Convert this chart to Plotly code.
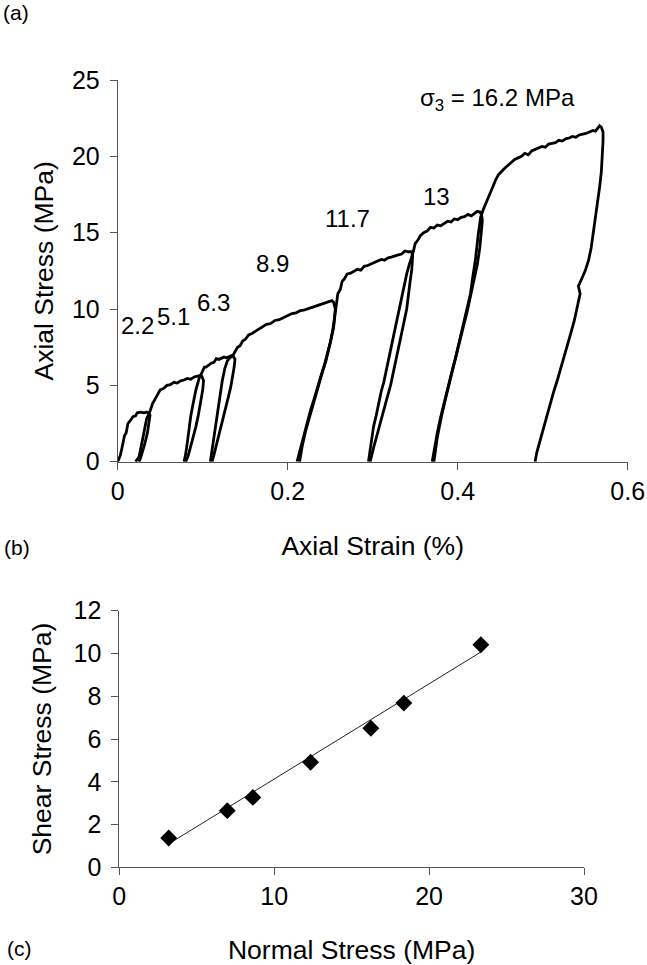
import plotly.graph_objects as go

# ---------------- (a) multi-stage triaxial test: axial stress vs axial strain ----------------
stage_labels = ["2.2", "5.1", "6.3", "8.9", "11.7", "13", "σ<sub>3</sub> = 16.2 MPa"]
label_strain = [0.0233, 0.0655, 0.1125, 0.182, 0.270, 0.375, 0.447]
label_stress = [8.9, 9.5, 10.4, 13.0, 15.9, 17.37, 23.75]

stage1_strain = [0.000, 0.003, 0.005, 0.008, 0.010, 0.012, 0.015, 0.018, 0.021, 0.023, 0.027,
                 0.031, 0.034, 0.036, 0.038, 0.037, 0.035, 0.032, 0.029, 0.027, 0.025]
stage1_stress = [0.0, 0.4, 0.9, 1.7, 1.9, 2.5, 2.7, 2.95, 3.0, 3.2, 3.25,
                 3.2, 3.25, 3.2, 3.05, 2.6, 1.9, 1.2, 0.6, 0.25, 0.0]

stage2_strain = [0.021, 0.025, 0.028, 0.031, 0.034, 0.038, 0.041, 0.044, 0.047, 0.050, 0.054,
                 0.058, 0.062, 0.066, 0.070, 0.074, 0.078, 0.082, 0.086, 0.090, 0.094, 0.097,
                 0.099, 0.101, 0.100, 0.098, 0.095, 0.092, 0.089, 0.086, 0.083, 0.080]
stage2_stress = [0.0, 0.3, 1.1, 2.0, 2.8, 3.3, 3.8, 4.1, 4.4, 4.7, 4.8,
                 5.0, 5.05, 5.2, 5.15, 5.3, 5.35, 5.45, 5.4, 5.55, 5.6, 5.65,
                 5.6, 5.3, 4.7, 4.0, 3.1, 2.3, 1.6, 0.9, 0.4, 0.0]

stage3_strain = [0.078, 0.080, 0.082, 0.084, 0.086, 0.088, 0.090, 0.092, 0.094, 0.096, 0.098,
                 0.100, 0.102, 0.104, 0.107, 0.110, 0.113, 0.116, 0.119, 0.122, 0.125, 0.128,
                 0.131, 0.134, 0.136, 0.138, 0.137, 0.135, 0.133, 0.130, 0.127, 0.124, 0.121,
                 0.118, 0.115, 0.113, 0.111]
stage3_stress = [0.0, 0.5, 1.3, 2.3, 3.0, 3.6, 4.2, 4.7, 5.1, 5.5, 5.7,
                 5.9, 6.2, 6.2, 6.35, 6.45, 6.5, 6.75, 6.7, 6.8, 6.85, 6.8,
                 6.9, 6.95, 6.9, 6.7, 6.2, 5.5, 4.9, 4.2, 3.5, 2.9, 2.3,
                 1.6, 0.9, 0.4, 0.0]

stage4_strain = [0.109, 0.111, 0.114, 0.117, 0.120, 0.123, 0.126, 0.129, 0.132, 0.135, 0.138,
                 0.141, 0.144, 0.147, 0.150, 0.154, 0.158, 0.162, 0.166, 0.170, 0.175, 0.180,
                 0.185, 0.190, 0.195, 0.200, 0.205, 0.210, 0.215, 0.220, 0.225, 0.230, 0.235,
                 0.240, 0.245, 0.249, 0.252, 0.254, 0.256, 0.255, 0.254, 0.251, 0.248, 0.245,
                 0.241, 0.237, 0.233, 0.229, 0.225, 0.221, 0.217, 0.214]
stage4_stress = [0.0, 0.8, 2.0, 3.1, 4.2, 5.3, 6.1, 6.6, 6.8, 6.9, 7.2,
                 7.5, 7.6, 7.9, 8.0, 8.3, 8.4, 8.55, 8.7, 8.8, 9.0, 9.05,
                 9.25, 9.3, 9.45, 9.55, 9.7, 9.75, 9.9, 9.95, 10.05, 10.15, 10.2,
                 10.3, 10.45, 10.5, 10.55, 10.45, 10.0, 9.3, 8.8, 8.0, 7.3, 6.6,
                 5.9, 5.1, 4.3, 3.6, 2.8, 2.0, 1.0, 0.0]

stage5_strain = [0.211, 0.215, 0.219, 0.223, 0.227, 0.231, 0.235, 0.239, 0.243, 0.247, 0.250,
                 0.253, 0.255, 0.257, 0.258, 0.259, 0.262, 0.264, 0.267, 0.270, 0.274, 0.278,
                 0.282, 0.286, 0.290, 0.294, 0.298, 0.302, 0.306, 0.310, 0.314, 0.318, 0.322,
                 0.326, 0.330, 0.334, 0.338, 0.342, 0.346, 0.347, 0.346, 0.344, 0.342, 0.340,
                 0.337, 0.334, 0.331, 0.328, 0.325, 0.321, 0.317, 0.313, 0.309, 0.305, 0.301,
                 0.297]
stage5_stress = [0.0, 0.9, 1.7, 2.6, 3.4, 4.1, 4.9, 5.6, 6.3, 7.1, 7.8,
                 8.6, 9.3, 10.0, 10.6, 11.0, 11.3, 11.8, 12.0, 12.3, 12.35, 12.5,
                 12.6, 12.55, 12.8, 12.85, 12.95, 13.05, 13.1, 13.25, 13.2, 13.35, 13.4,
                 13.5, 13.55, 13.6, 13.8, 13.75, 13.75, 13.5, 12.6, 11.8, 10.9, 10.0,
                 9.2, 8.4, 7.6, 6.8, 5.9, 5.0, 4.2, 3.4, 2.6, 1.8, 0.9,
                 0.0]

stage6_strain = [0.295, 0.298, 0.301, 0.304, 0.307, 0.310, 0.313, 0.316, 0.319, 0.322, 0.325,
                 0.328, 0.331, 0.334, 0.337, 0.340, 0.343, 0.346, 0.348, 0.350, 0.353, 0.356,
                 0.360, 0.364, 0.368, 0.372, 0.376, 0.380, 0.384, 0.388, 0.392, 0.396, 0.400,
                 0.404, 0.408, 0.412, 0.416, 0.420, 0.423, 0.426, 0.428, 0.429, 0.428, 0.426,
                 0.423, 0.419, 0.415, 0.411, 0.406, 0.401, 0.396, 0.391, 0.386, 0.381, 0.376,
                 0.372]
stage6_stress = [0.0, 1.2, 2.3, 3.0, 3.9, 4.6, 5.2, 6.0, 6.7, 7.5, 8.2,
                 9.0, 9.8, 10.8, 11.6, 12.3, 12.9, 13.4, 13.8, 14.3, 14.5, 14.8,
                 15.0, 15.1, 15.35, 15.3, 15.5, 15.45, 15.6, 15.75, 15.7, 15.9, 15.85,
                 16.0, 16.05, 16.2, 16.1, 16.3, 16.4, 16.35, 16.2, 15.8, 15.0, 14.0,
                 12.9, 11.8, 10.8, 9.8, 8.7, 7.6, 6.4, 5.3, 4.2, 3.0, 1.6,
                 0.0]

stage7_strain = [0.370, 0.373, 0.376, 0.379, 0.382, 0.385, 0.388, 0.391, 0.394, 0.397, 0.400,
                 0.403, 0.406, 0.409, 0.412, 0.415, 0.418, 0.421, 0.424, 0.427, 0.430, 0.433,
                 0.436, 0.439, 0.442, 0.445, 0.448, 0.451, 0.455, 0.459, 0.463, 0.467, 0.471,
                 0.475, 0.479, 0.483, 0.487, 0.491, 0.495, 0.499, 0.503, 0.507, 0.511, 0.515,
                 0.519, 0.523, 0.527, 0.531, 0.535, 0.539, 0.543, 0.547, 0.551, 0.555, 0.559,
                 0.562, 0.565, 0.567, 0.569, 0.571, 0.571, 0.570, 0.569, 0.567, 0.565, 0.563,
                 0.560, 0.557, 0.554, 0.550, 0.546, 0.542, 0.544, 0.541, 0.537, 0.533, 0.529,
                 0.525, 0.521, 0.517, 0.513, 0.509, 0.505, 0.501, 0.497, 0.493, 0.491]
stage7_stress = [0.0, 1.0, 1.9, 2.7, 3.4, 4.1, 4.9, 5.5, 6.1, 6.7, 7.4,
                 8.1, 8.8, 9.4, 10.2, 11.0, 12.2, 13.3, 14.8, 16.0, 16.5, 16.9,
                 17.4, 17.8, 18.2, 18.5, 18.8, 19.0, 19.2, 19.4, 19.6, 19.8, 19.9,
                 20.0, 20.2, 20.1, 20.35, 20.45, 20.5, 20.65, 20.6, 20.8, 20.85, 20.9,
                 21.05, 21.0, 21.15, 21.2, 21.3, 21.25, 21.4, 21.45, 21.5, 21.6, 21.7,
                 21.65, 21.85, 22.0, 21.9, 21.6, 21.0, 20.0, 19.0, 18.0, 17.2, 16.3,
                 15.0, 14.0, 13.2, 12.5, 12.0, 11.5, 11.0, 10.2, 9.2, 8.4, 7.6,
                 6.9, 6.1, 5.3, 4.6, 3.8, 3.0, 2.3, 1.5, 0.6, 0.0]

# ---------------- (b) failure envelope: shear stress vs normal stress ----------------
normal_stress = [3.19, 6.97, 8.62, 12.35, 16.24, 18.37, 23.34]
shear_stress = [1.37, 2.65, 3.27, 4.91, 6.50, 7.68, 10.41]
trend_normal = [3.2, 23.3]
trend_shear = [1.1, 10.05]

FONT = "Liberation Sans, Arial, sans-serif"
AXCOL = "#555555"
W, H = 647, 965

fig = go.Figure()

stages = [
    (stage1_strain, stage1_stress), (stage2_strain, stage2_stress),
    (stage3_strain, stage3_stress), (stage4_strain, stage4_stress),
    (stage5_strain, stage5_stress), (stage6_strain, stage6_stress),
    (stage7_strain, stage7_stress),
]
for i, (sx, sy) in enumerate(stages):
    fig.add_trace(go.Scatter(
        x=sx, y=sy, mode="lines", xaxis="x", yaxis="y",
        line=dict(color="black", width=2.8),
        name="σ3 stage %d" % (i + 1), showlegend=False, hoverinfo="skip",
    ))

fig.add_trace(go.Scatter(
    x=trend_normal, y=trend_shear, mode="lines", xaxis="x2", yaxis="y2",
    line=dict(color="#222222", width=1), showlegend=False,
))
fig.add_trace(go.Scatter(
    x=normal_stress, y=shear_stress, mode="markers", xaxis="x2", yaxis="y2",
    marker=dict(symbol="diamond", size=13, color="black"),
    showlegend=False, cliponaxis=False,
))

axis_common = dict(
    showline=True, linecolor=AXCOL, linewidth=1,
    ticks="outside", ticklen=7, tickwidth=1, tickcolor=AXCOL,
    showgrid=False, zeroline=False, automargin=False,
    tickfont=dict(family=FONT, size=25, color="black"),
)
TITLE_FONT = dict(family=FONT, size=26.5, color="black")

fig.update_layout(
    template="none",
    width=W, height=H, autosize=False,
    margin=dict(l=0, r=0, t=0, b=0, pad=0),
    paper_bgcolor="white", plot_bgcolor="white",
    font=dict(family=FONT, color="black"),
    xaxis=dict(
        domain=[117.7 / W, 627.7 / W], range=[0, 0.6], anchor="y",
        tickvals=[0, 0.2, 0.4, 0.6], ticktext=["0", "0.2", "0.4", "0.6"],
        title=dict(text="Axial Strain (%)", font=TITLE_FONT, standoff=32),
        **axis_common,
    ),
    yaxis=dict(
        domain=[1 - 461.7 / H, 1 - 80.0 / H], range=[0, 25], anchor="x",
        tickvals=[0, 5, 10, 15, 20, 25], ticklabelstandoff=5,
        title=dict(text="Axial Stress (MPa)", font=TITLE_FONT, standoff=10),
        **axis_common,
    ),
    xaxis2=dict(
        domain=[119.3 / W, 584.0 / W], range=[0, 30], anchor="y2",
        tickvals=[0, 10, 20, 30],
        title=dict(text="Normal Stress (MPa)", font=TITLE_FONT, standoff=32),
        **axis_common,
    ),
    yaxis2=dict(
        domain=[1 - 867.3 / H, 1 - 610.7 / H], range=[0, 12], anchor="x2",
        tickvals=[0, 2, 4, 6, 8, 10, 12], ticklabelstandoff=5,
        title=dict(text="Shear Stress (MPa)", font=TITLE_FONT, standoff=14),
        **axis_common,
    ),
)

for txt, lx, ly in zip(stage_labels, label_strain, label_stress):
    fig.add_annotation(
        x=lx, y=ly, xref="x", yref="y", text=txt, showarrow=False,
        xanchor="center", yanchor="middle",
        font=dict(family=FONT, size=24, color="black"),
    )

for txt, px, py in [("(a)", 16, 13), ("(b)", 17, 547), ("(c)", 19, 948)]:
    fig.add_annotation(
        x=px / W, y=1 - py / H, xref="paper", yref="paper", text=txt,
        showarrow=False, xanchor="center", yanchor="middle",
        font=dict(family=FONT, size=21, color="black"),
    )

fig.write_html(
    "out.html",
    config={"displayModeBar": False},
    post_script="document.body.style.margin='0';",
)
